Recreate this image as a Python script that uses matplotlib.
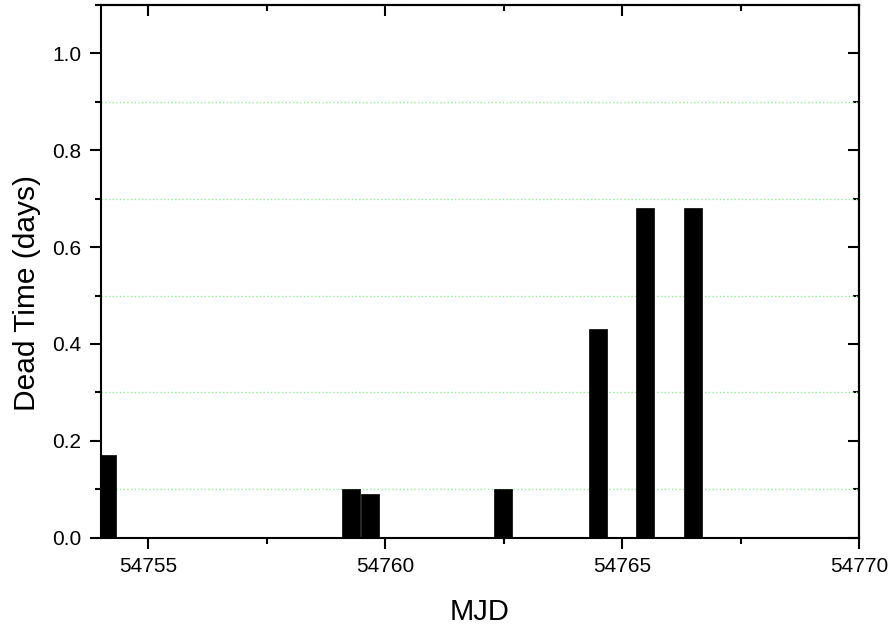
import matplotlib
matplotlib.use('Agg')
import matplotlib.pyplot as plt
from matplotlib.ticker import MultipleLocator, FormatStrFormatter

plt.rcParams['font.family'] = ['Liberation Sans', 'DejaVu Sans']

# dead time per observation
mjd = [54754.13, 54759.27, 54759.68, 54762.48, 54764.49, 54765.49, 54766.49]
dead = [0.17, 0.10, 0.09, 0.10, 0.43, 0.68, 0.68]

fig = plt.figure(figsize=(8.93, 6.25), dpi=100)
ax = fig.add_axes([0.1128, 0.1397, 0.962 - 0.1128, 0.992 - 0.1397])

ax.bar(mjd, dead, width=0.38, color='black', edgecolor='black', linewidth=0.5, zorder=3)

ax.set_xlim(54754, 54770)
ax.set_ylim(0, 1.1)
ax.xaxis.set_major_locator(MultipleLocator(5))
ax.xaxis.set_minor_locator(MultipleLocator(2.5))
ax.yaxis.set_major_locator(MultipleLocator(0.2))
ax.yaxis.set_minor_locator(MultipleLocator(0.1))
ax.xaxis.set_major_formatter(FormatStrFormatter('%d'))
ax.yaxis.set_major_formatter(FormatStrFormatter('%.1f'))

# green dotted grid on the minor y ticks
ax.grid(True, axis='y', which='minor', color='#90f090', linestyle=':', linewidth=1, zorder=0)

for s in ax.spines.values():
    s.set_linewidth(1.5)

ax.tick_params(which='both', direction='out', width=1.5, labelsize=15, pad=6,
               top=False, right=False)
ax.tick_params(which='major', length=8)
ax.tick_params(which='minor', length=4)

# inward ticks on top and right like the original
top = ax.secondary_xaxis('top')
top.xaxis.set_major_locator(MultipleLocator(5))
top.xaxis.set_minor_locator(MultipleLocator(2.5))
right = ax.secondary_yaxis('right')
right.yaxis.set_major_locator(MultipleLocator(0.2))
right.yaxis.set_minor_locator(MultipleLocator(0.1))
for sec in (top, right):
    sec.tick_params(which='both', direction='in', width=1.5, labelleft=False,
                    labelright=False, labeltop=False, labelbottom=False)
    sec.tick_params(which='major', length=8)
    sec.tick_params(which='minor', length=4)
    for s in sec.spines.values():
        s.set_linewidth(1.5)

ax.set_xlabel('MJD', fontsize=21)
ax.set_ylabel('Dead Time (days)', fontsize=21.5)
ax.xaxis.set_label_coords(0.5, -0.114)
ax.yaxis.set_label_coords(-0.079, 0.459)

fig.savefig('out.png', dpi=100)
